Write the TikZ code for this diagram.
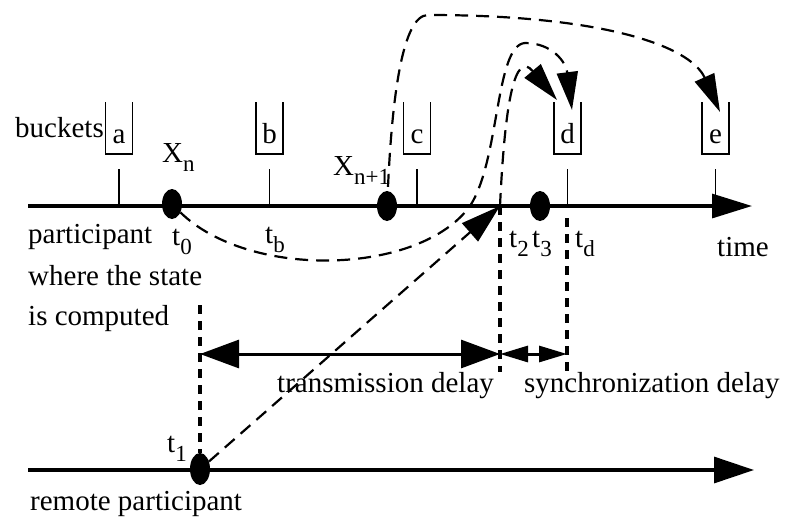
\documentclass[tikz,border=0pt]{standalone}
\usepackage{fontspec}
\setmainfont{Liberation Serif}
\usetikzlibrary{arrows.meta,shapes.geometric}
\newcommand\lowsub[1]{\raisebox{-0.32em}{\fontsize{23}{23}\selectfont #1}}
\tikzset{
  axis/.style={line width=3.2pt},
  tickline/.style={line width=1.8pt},
  bucketline/.style={line width=1.8pt},
  dot/.style={ellipse,fill=black,draw=none,inner sep=0pt,minimum width=20pt,minimum height=30pt},
  flow/.style={line width=2.2pt,dash pattern=on 13pt off 8pt},
  vdash/.style={line width=3.6pt,dash pattern=on 9pt off 7pt},
  lbl/.style={inner sep=0pt,anchor=base west,font=\fontsize{29}{34}\selectfont},
  blbl/.style={inner sep=0pt,anchor=base,font=\fontsize{29}{34}\selectfont},
  bigtip/.style={-{Triangle[length=40pt,width=24pt]}},
  flowtip/.style={-{Triangle[length=38pt,width=21pt]}},
}
\begin{document}
\begin{tikzpicture}[x=1pt,y=-1pt]
\useasboundingbox (0,0) rectangle (800,522);

% axes
\coordinate (m0) at (28,206);
\coordinate (m1) at (752,206);
\coordinate (r0) at (28,470);
\coordinate (r1) at (754,470);
\draw[axis,bigtip] (m0) -- (m1);
\draw[axis,-{Triangle[length=40pt,width=26pt]}] (r0) -- (r1);

% ticks and buckets
\foreach \n/\x in {a/119,b/269.5,c/417,d/567.5,e/715.5}{
  \draw[tickline] (\x,169) -- (\x,206);
  \draw[bucketline] (\x-13.5,102) |- (\x+13.5,154) -- (\x+13.5,102);
  \node[blbl] (lbl\n) at (\x,143) {\n};
}
\node[lbl] (buckets) at (15,137) {buckets};

% dots
\node[dot] (xn) at (172,204) {};
\node[dot] (xn1) at (387,206) {};
\node[dot] (t3dot) at (540,206) {};
\node[dot,minimum height=32pt] (t1dot) at (200,469) {};

% labels
\node[lbl] (lxn) at (162,162) {X\lowsub{n}};
\node[lbl] (lxn1) at (333,175) {X\lowsub{n+1}};
\node[lbl] (lt0) at (172,245) {t\lowsub{0}};
\node[lbl] (ltb) at (265,243) {t\lowsub{b}};
\node[lbl] (lt2) at (509,247) {t\lowsub{2}};
\node[lbl] (lt3) at (532,247) {t\lowsub{3}};
\node[lbl] (ltd) at (575,247) {t\lowsub{d}};
\node[lbl] (time) at (717,256) {time};
\node[lbl] (p1) at (28,243) {participant};
\node[lbl] (p2) at (28,285) {where the state};
\node[lbl] (p3) at (28,325) {is computed};
\node[lbl] (trans) at (277,392) {transmission delay};
\node[lbl] (sync) at (524,392) {synchronization delay};
\node[lbl] (lt1) at (167,452) {t\lowsub{1}};
\node[lbl] (remote) at (30,510) {remote participant};

% vertical dashed lines
\coordinate (v0a) at (200,305);
\coordinate (t2) at (500,206);
\coordinate (t2b) at (500,372);
\coordinate (tda) at (567,218);
\coordinate (tdb) at (567,372);
\draw[vdash] (v0a) -- (t1dot.north);
\draw[vdash] (t2) -- (t2b);
\draw[vdash] (tda) -- (tdb);

% delay arrows
\coordinate (da) at (200,354);
\coordinate (db) at (500,354);
\coordinate (dc) at (567,354);
\draw[line width=3pt,{Triangle[length=39pt,width=28pt]}-{Triangle[length=39pt,width=28pt]}] (da) -- (db);
\draw[line width=3pt,{Triangle[length=28pt,width=16pt]}-{Triangle[length=28pt,width=16pt]}] (db) -- (dc);

% message from remote participant
\draw[flow,-{Triangle[length=40pt,width=24pt]}] (t1dot.40) -- (t2);

% curve from X_n to bucket d
\draw[flow,flowtip] (xn.-45) .. controls (250,280) and (420,275) .. (470,206)
  .. controls (500,160) and (495,45) .. (525,43)
  .. controls (552,43) and (566,62) .. (572,110);

% curve from t2 to bucket d
\draw[flow,flowtip] (t2) .. controls (505,100) and (515,50) .. (557,100);

% curve from X_{n+1} to bucket e
\draw[flow,flowtip] (xn1.north) ++(1,-4) .. controls (392,100) and (402,15) .. (428,15)
  .. controls (600,15) and (690,45) .. (720,112);
\end{tikzpicture}
\end{document}
